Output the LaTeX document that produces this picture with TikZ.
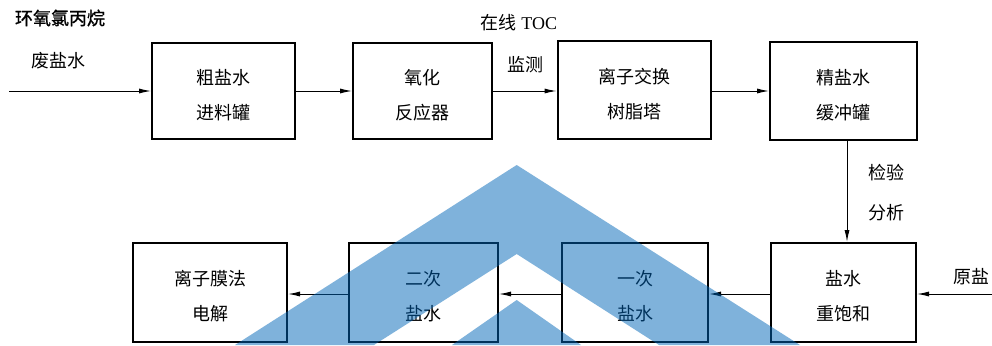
\documentclass[tikz,border=0pt]{standalone}
\usepackage{fontspec}
\setmainfont{Liberation Serif}
\newfontfamily\cjk{Noto Sans CJK SC}
\newfontfamily\cjkb[FakeBold=1]{Noto Sans CJK SC}
\usetikzlibrary{arrows.meta}
\definecolor{wmblue}{RGB}{0,101,183}
\tikzset{
  box/.style={draw=black, line width=2pt, rectangle, inner sep=0pt},
  txt/.style={align=center, font=\cjk\fontsize{18pt}{35pt}\selectfont, inner sep=0pt},
  lbl/.style={font=\cjk\fontsize{18pt}{20pt}\selectfont, inner sep=0pt},
  flow/.style={draw=black, line width=1pt, -{Latex[length=12pt,width=5pt]}},
}
\begin{document}
\begin{tikzpicture}[x=1pt,y=-1pt]
\path[use as bounding box] (0,0) rectangle (992,345);
% top row boxes
\node[box, minimum width=143pt, minimum height=96pt] (b1) at (223.5,91) {};
\node[box, minimum width=139pt, minimum height=96pt] (b2) at (422.5,91) {};
\node[box, minimum width=153pt, minimum height=98pt] (b3) at (634,90) {};
\node[box, minimum width=147pt, minimum height=98pt] (b4) at (843.5,91) {};
% bottom row boxes
\node[box, minimum width=154pt, minimum height=99pt] (c1) at (210,292.5) {};
\node[box, minimum width=149pt, minimum height=99pt] (c2) at (423.5,292.5) {};
\node[box, minimum width=146pt, minimum height=99pt] (c3) at (635,292.5) {};
\node[box, minimum width=145pt, minimum height=99pt] (c4) at (843.5,292.5) {};
% box texts
\node[txt] (t1) at ([yshift=-4.5pt]b1.center) {粗盐水\\进料罐};
\node[txt] (t2) at ([yshift=-4.5pt]b2.center) {氧化\\反应器};
\node[txt] (t3) at ([yshift=-4.5pt]b3.center) {离子交换\\树脂塔};
\node[txt] (t4) at ([yshift=-4.5pt]b4.center) {精盐水\\缓冲罐};
\node[txt] (u1) at ([yshift=-4pt]c1.center) {离子膜法\\电解};
\node[txt] (u2) at ([yshift=-4pt]c2.center) {二次\\盐水};
\node[txt] (u3) at ([yshift=-4pt]c3.center) {一次\\盐水};
\node[txt] (u4) at ([yshift=-4pt]c4.center) {盐水\\重饱和};
% labels
\node[lbl, font=\cjkb\fontsize{18pt}{20pt}\selectfont] (l1) at (60,18) {环氧氯丙烷};
\node[lbl] (l2) at (58,61) {废盐水};
\node[inner sep=0pt, font=\fontsize{18pt}{20pt}\selectfont] (l3) at (519,23) {{\cjk 在线} TOC};
\node[lbl] (l4) at (525,65) {监测};
\node[lbl] (l5) at (886,173) {检验};
\node[lbl] (l6) at (886,213) {分析};
\node[lbl] (l7) at (971,277) {原盐};
% connectors
\coordinate (in1) at (9,91);
\coordinate (in2) at (992,294);
\draw[flow] (in1) -- (b1.west);
\draw[flow] (b1.east) -- (b2.west);
\draw[flow] (b2.east) -- (b2.east -| b3.west);
\draw[flow] (b3.east |- b4.west) -- (b4.west);
\draw[flow] ([xshift=3.5pt]b4.south) -- ([xshift=3.5pt]c4.north);
\draw[flow] (in2) -- (in2 -| c4.east);
\draw[flow] ([yshift=-1.5pt]c4.west) -- ([yshift=-1.5pt]c3.east);
\draw[flow] ([yshift=-1.5pt]c3.west) -- ([yshift=-1.5pt]c2.east);
\draw[flow] ([yshift=-1.5pt]c2.west) -- ([yshift=-1.5pt]c1.east);
% watermark
\fill[wmblue, opacity=0.5] (235,345) -- (516.7,165) -- (800,345) -- (659,345) -- (516.7,254) -- (374,345) -- cycle;
\fill[wmblue, opacity=0.5] (452,345) -- (516.7,300) -- (581,345) -- cycle;
\end{tikzpicture}
\end{document}
